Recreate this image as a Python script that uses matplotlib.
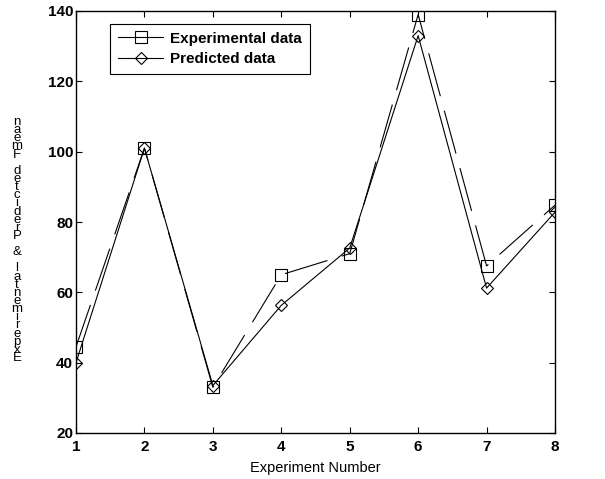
import matplotlib.pyplot as plt
from matplotlib.lines import Line2D

plt.rcParams['font.family'] = ['Liberation Sans', 'DejaVu Sans']

### Daten
experiment = [1, 2, 3, 4, 5, 6, 7, 8]
experimental = [44.5, 101, 33, 65, 71, 139, 67.5, 84.8]
predicted = [40, 101, 33.5, 56.3, 72.6, 133, 61.2, 82.8]
xticks = [1, 2, 3, 4, 5, 6, 7, 8]
yticks = [20, 40, 60, 80, 100, 120, 140]
ylabel_text = "Experimental & Predicted Fmean"

fig = plt.figure(figsize=(6.05, 4.79), dpi=100)
ax = fig.add_axes([76/605, 1 - 433/479, (555-76)/605, (433-11)/479])

sq = dict(marker="s", ms=8, mfc="none", mec="k", mew=0.8)
dm = dict(marker="D", ms=6, mfc="none", mec="k", mew=0.8)

ax.plot(experiment, experimental, color="k", lw=0.8, dashes=(40, 13.5), **sq)
ax.plot(experiment, predicted, color="k", lw=0.8, linestyle="-", **dm)

ax.set_xlim(1, 8)
ax.set_ylim(20, 140)
ax.set_xticks(xticks)
ax.set_yticks(yticks)
ax.tick_params(direction="in", top=True, right=True, length=4.5, width=0.8, pad=5)
ax.tick_params(axis="y", pad=2)
for lbl in ax.get_xticklabels() + ax.get_yticklabels():
    lbl.set_fontweight("bold")
    lbl.set_fontsize(11)
for s in ax.spines.values():
    s.set_linewidth(1.0)

ax.set_xlabel("Experiment Number", fontsize=10.5, labelpad=5)

# y-Beschriftung: Buchstaben einzeln gestapelt, von unten nach oben (wie im Original)
top, bottom = 122, 358
n = len(ylabel_text)
for i, ch in enumerate(ylabel_text):
    y = bottom - i * (bottom - top) / (n - 1)
    fig.text(17/605, 1 - y/479, ch, fontsize=9.5, ha="center", va="center")

# Legende mit durchgezogenen Linien (wie im Original)
handles = [Line2D([], [], color="k", lw=0.8, **sq),
           Line2D([], [], color="k", lw=0.8, **dm)]
leg = ax.legend(handles, ["Experimental data", "Predicted data"],
                loc="upper left", bbox_to_anchor=((110-76)/479, 1 - (24-11)/422),
                borderaxespad=0, prop={"weight": "bold", "size": 11}, fancybox=False,
                edgecolor="k", framealpha=1, borderpad=0.5, handlelength=3.0,
                handletextpad=0.45, labelspacing=0.42)
leg.get_frame().set_linewidth(0.8)

plt.savefig("out.png", dpi=100)
